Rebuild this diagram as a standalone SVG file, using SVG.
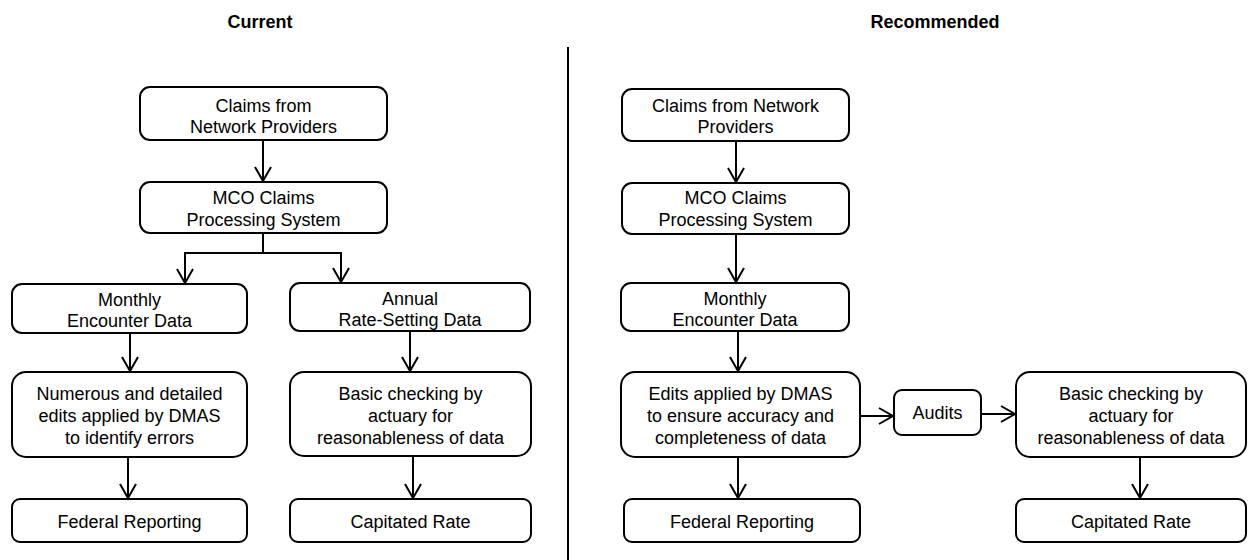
<svg xmlns="http://www.w3.org/2000/svg" width="1248" height="560" viewBox="0 0 1248 560">
<style>
  .box { fill: #ffffff; stroke: #000000; stroke-width: 2; }
  .t { font-family: "Liberation Sans", Arial, sans-serif; font-size: 18px; fill: #000000; text-anchor: middle; }
  .title { font-family: "Liberation Sans", Arial, sans-serif; font-size: 18px; font-weight: bold; fill: #000000; text-anchor: middle; }
  .c { fill: none; stroke: #000000; stroke-width: 2; marker-end: url(#arr); }
</style>
<defs>
  <marker id="arr" markerUnits="userSpaceOnUse" viewBox="0 0 20 20" refX="17" refY="10" markerWidth="20" markerHeight="20" orient="auto">
    <path d="M3,2 L17,10 L3,18" fill="none" stroke="#000000" stroke-width="2"/>
  </marker>
</defs>
<rect width="1248" height="560" fill="#ffffff"/>

<g id="titles">
  <text class="title" x="260" y="28">Current</text>
  <text class="title" x="935" y="28">Recommended</text>
  <line x1="568" y1="47" x2="568" y2="560" stroke="#000000" stroke-width="2"/>
</g>

<g id="connectors">
  <path class="c" d="M263,140 V181"/>
  <path class="c" d="M263,233 V253 H185 V283"/>
  <path class="c" d="M263,253 H341 V282"/>
  <path class="c" d="M130,333 V371"/>
  <path class="c" d="M410,331 V371"/>
  <path class="c" d="M128,457 V498"/>
  <path class="c" d="M413,456 V498"/>
  <path class="c" d="M736,141 V182"/>
  <path class="c" d="M736,234 V282"/>
  <path class="c" d="M738,331 V371"/>
  <path class="c" d="M860,416 H893"/>
  <path class="c" d="M981,414 H1015"/>
  <path class="c" d="M738,457 V498"/>
  <path class="c" d="M1140,457 V498"/>
</g>

<g id="l-claims">
  <rect class="box" x="140" y="87" width="247" height="53" rx="10"/>
  <text class="t" x="263.5" y="112">Claims from</text>
  <text class="t" x="263.5" y="133">Network Providers</text>
</g>
<g id="l-mco">
  <rect class="box" x="140" y="182" width="247" height="51" rx="10"/>
  <text class="t" x="263.5" y="204">MCO Claims</text>
  <text class="t" x="263.5" y="226">Processing System</text>
</g>
<g id="l-monthly">
  <rect class="box" x="12" y="284" width="235" height="49" rx="10"/>
  <text class="t" x="129.5" y="306">Monthly</text>
  <text class="t" x="129.5" y="327">Encounter Data</text>
</g>
<g id="l-annual">
  <rect class="box" x="290" y="283" width="240" height="48" rx="10"/>
  <text class="t" x="410" y="305">Annual</text>
  <text class="t" x="410" y="326">Rate-Setting Data</text>
</g>
<g id="l-numerous">
  <rect class="box" x="12" y="372" width="235" height="85" rx="14"/>
  <text class="t" x="129.5" y="400">Numerous and detailed</text>
  <text class="t" x="129.5" y="422">edits applied by DMAS</text>
  <text class="t" x="129.5" y="444">to identify errors</text>
</g>
<g id="l-basic">
  <rect class="box" x="290" y="372" width="241" height="84" rx="14"/>
  <text class="t" x="410.5" y="400">Basic checking by</text>
  <text class="t" x="410.5" y="422">actuary for</text>
  <text class="t" x="410.5" y="444">reasonableness  of data</text>
</g>
<g id="l-federal">
  <rect class="box" x="12" y="499" width="235" height="43" rx="8"/>
  <text class="t" x="129.5" y="528">Federal Reporting</text>
</g>
<g id="l-capitated">
  <rect class="box" x="290" y="499" width="241" height="43" rx="8"/>
  <text class="t" x="410.5" y="528">Capitated Rate</text>
</g>

<g id="r-claims">
  <rect class="box" x="622" y="89" width="227" height="52" rx="10"/>
  <text class="t" x="735.5" y="112">Claims from Network</text>
  <text class="t" x="735.5" y="133">Providers</text>
</g>
<g id="r-mco">
  <rect class="box" x="622" y="183" width="227" height="51" rx="10"/>
  <text class="t" x="735.5" y="204">MCO Claims</text>
  <text class="t" x="735.5" y="226">Processing System</text>
</g>
<g id="r-monthly">
  <rect class="box" x="621" y="283" width="228" height="48" rx="10"/>
  <text class="t" x="735" y="305">Monthly</text>
  <text class="t" x="735" y="326">Encounter Data</text>
</g>
<g id="r-edits">
  <rect class="box" x="621" y="372" width="239" height="85" rx="14"/>
  <text class="t" x="740.5" y="400">Edits applied by DMAS</text>
  <text class="t" x="740.5" y="422">to ensure accuracy and</text>
  <text class="t" x="740.5" y="444">completeness of data</text>
</g>
<g id="r-audits">
  <rect class="box" x="894" y="390" width="87" height="45" rx="8"/>
  <text class="t" x="937.5" y="419">Audits</text>
</g>
<g id="r-basic">
  <rect class="box" x="1016" y="372" width="230" height="85" rx="14"/>
  <text class="t" x="1131" y="400">Basic checking by</text>
  <text class="t" x="1131" y="422">actuary for</text>
  <text class="t" x="1131" y="444">reasonableness  of data</text>
</g>
<g id="r-federal">
  <rect class="box" x="624" y="499" width="236" height="43" rx="8"/>
  <text class="t" x="742" y="528">Federal Reporting</text>
</g>
<g id="r-capitated">
  <rect class="box" x="1016" y="499" width="230" height="43" rx="8"/>
  <text class="t" x="1131" y="528">Capitated Rate</text>
</g>
</svg>
